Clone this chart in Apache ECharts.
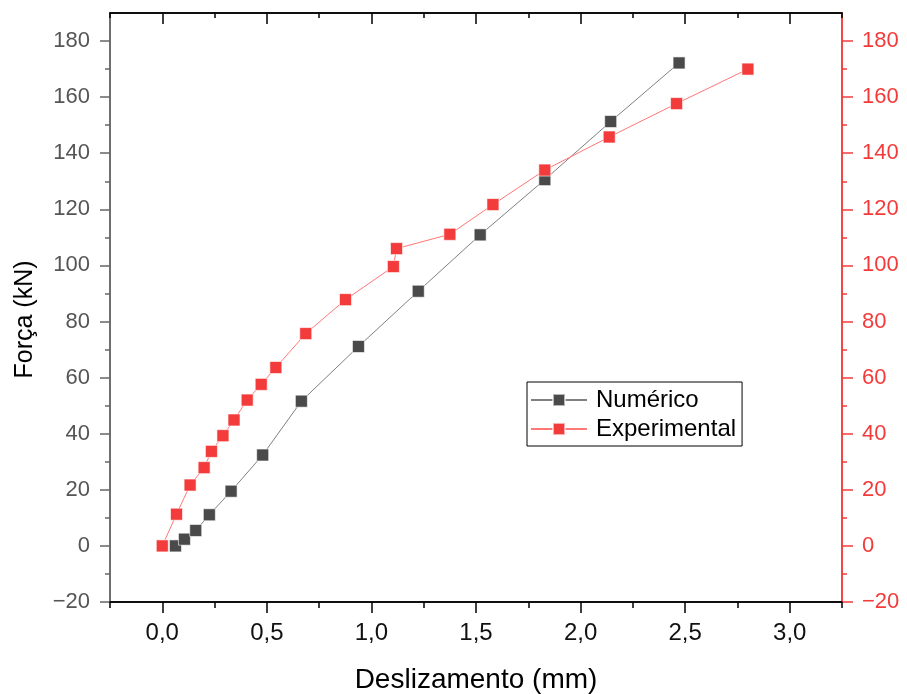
<!DOCTYPE html>
<html>
<head>
<meta charset="utf-8">
<script src="https://cdn.jsdelivr.net/npm/echarts@6/dist/echarts.min.js"></script>
<style>
  html, body { margin: 0; padding: 0; background: #fff; }
  #chart { width: 907px; height: 694px; }
</style>
</head>
<body>
<div id="chart"></div>
<script>
// Numérico (black squares)
var numX = [0.063, 0.106, 0.16, 0.225, 0.329, 0.48, 0.665, 0.938, 1.224, 1.52, 1.829, 2.144, 2.471]
var numY = [0, 2.4, 5.5, 11.1, 19.5, 32.4, 51.6, 71.1, 90.8, 110.9, 130.6, 151.3, 172.2]
// Experimental (red squares)
var expX = [0, 0.068, 0.133, 0.2, 0.235, 0.29, 0.343, 0.406, 0.473, 0.543, 0.686, 0.876, 1.105, 1.12, 1.375, 1.581, 1.829, 2.137, 2.459, 2.8]
var expY = [0, 11.3, 21.7, 27.9, 33.7, 39.3, 44.9, 52, 57.6, 63.6, 75.7, 87.8, 99.6, 106, 111.1, 121.7, 134, 145.8, 157.7, 170]

var xMajor = [0, 0.5, 1, 1.5, 2, 2.5, 3]
var xMinor = [-0.25, 0.25, 0.75, 1.25, 1.75, 2.25, 2.75, 3.25]
var yMajor = [-20, 0, 20, 40, 60, 80, 100, 120, 140, 160, 180]
var yMinor = [-10, 10, 30, 50, 70, 90, 110, 130, 150, 170]

var font = "'Liberation Sans', Arial, sans-serif"
var red = '#f33b3b'

function pairs(xs, ys) {
  return xs.map(function (x, i) { return [x, ys[i]] })
}

function minus(v) {
  return String(v).replace('-', '\u2212')
}

function xAx(pos, ticks, len, inside, extra) {
  return Object.assign({
    type: 'value',
    position: pos,
    min: -0.25,
    max: 3.25,
    axisLine: { show: true, onZero: false, lineStyle: { color: '#000', width: 1.5 } },
    axisTick: { show: true, inside: inside, length: len, customValues: ticks, lineStyle: { color: '#000', width: 1.5 } },
    axisLabel: { show: false },
    splitLine: { show: false }
  }, extra || {})
}

function yAx(pos, ticks, len, color, extra) {
  return Object.assign({
    type: 'value',
    position: pos,
    min: -20,
    max: 190,
    axisLine: { show: true, onZero: false, lineStyle: { color: color, width: 1.5 } },
    axisTick: { show: true, length: len, customValues: ticks, lineStyle: { color: color, width: 1.5 } },
    axisLabel: { show: false },
    splitLine: { show: false }
  }, extra || {})
}

var chart = echarts.init(document.getElementById('chart'))
chart.setOption({
  animation: false,
  backgroundColor: '#fff',
  grid: { left: 110, right: 65, top: 13, bottom: 92, outerBoundsMode: 'none' },
  legend: {
    left: 527,
    top: 382,
    orient: 'vertical',
    itemWidth: 56,
    itemHeight: 15,
    itemGap: 5,
    padding: [6, 6, 5, 3],
    borderColor: '#000',
    borderWidth: 1,
    textStyle: { fontFamily: font, fontSize: 24, color: '#000', padding: [0, 0, 0, 4] },
    data: ['Numérico', 'Experimental']
  },
  xAxis: [
    xAx('bottom', xMajor, 11, false, {
      name: 'Deslizamento (mm)',
      nameLocation: 'middle',
      nameGap: 64,
      nameTextStyle: { fontFamily: font, fontSize: 28, color: '#000' },
      axisLabel: {
        show: true,
        customValues: xMajor,
        margin: 19,
        fontFamily: font,
        fontSize: 24,
        color: '#111',
        formatter: function (v) { return v.toFixed(1).replace('.', ',') }
      }
    }),
    xAx('bottom', xMinor, 6, false),
    xAx('top', xMajor, 11, true),
    xAx('top', xMinor, 5, true)
  ],
  yAxis: [
    yAx('left', yMajor, 10, '#666', {
      name: 'Força (kN)',
      nameLocation: 'middle',
      nameGap: 72,
      nameTextStyle: { fontFamily: font, fontSize: 25, color: '#000', padding: [0, 24, 0, 0] },
      axisLabel: { show: true, customValues: yMajor, margin: 20, fontFamily: font, fontSize: 22, color: '#555', formatter: minus }
    }),
    yAx('right', yMajor, 11, red, {
      axisLabel: { show: true, customValues: yMajor, margin: 20, fontFamily: font, fontSize: 22, color: red, formatter: minus }
    }),
    yAx('left', yMinor, 5, '#666'),
    yAx('right', yMinor, 5, red)
  ],
  series: [
    {
      name: 'Numérico',
      type: 'line',
      xAxisIndex: 0,
      yAxisIndex: 0,
      symbol: 'rect',
      symbolSize: 12,
      itemStyle: { color: '#4a4a4a', borderColor: 'rgba(255,255,255,0.6)', borderWidth: 1 },
      lineStyle: { color: '#808080', width: 1 },
      data: pairs(numX, numY)
    },
    {
      name: 'Experimental',
      type: 'line',
      xAxisIndex: 0,
      yAxisIndex: 1,
      symbol: 'rect',
      symbolSize: 12,
      itemStyle: { color: red, borderColor: 'rgba(255,255,255,0.6)', borderWidth: 1 },
      lineStyle: { color: '#f77', width: 1 },
      data: pairs(expX, expY)
    }
  ]
})
</script>
</body>
</html>
